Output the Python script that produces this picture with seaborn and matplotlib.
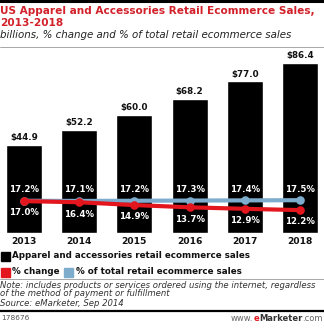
import matplotlib
matplotlib.use("Agg")
import matplotlib.pyplot as plt
import seaborn as sns
import numpy as np
import pandas as pd
from matplotlib.patches import Rectangle
from matplotlib.lines import Line2D

years = ["2013", "2014", "2015", "2016", "2017", "2018"]
sales = [44.9, 52.2, 60.0, 68.2, 77.0, 86.4]
pct_change = [17.0, 16.4, 14.9, 13.7, 12.9, 12.2]
pct_total = [17.2, 17.1, 17.2, 17.3, 17.4, 17.5]

RED = "#e3161e"
BLUE = "#7eaccc"
TITLE_RED = "#d2212b"

sns.set_theme(style="white")
plt.rcParams["font.family"] = ["DejaVu Sans"]

W, H = 324, 331
fig = plt.figure(figsize=(W / 100, H / 100), dpi=100)
renderer = fig.canvas.get_renderer()


def fx(px):
    return px / W


def fy(py):
    return 1 - py / H


def fit(t, width_px):
    for _ in range(3):
        w = t.get_window_extent(renderer=renderer).width
        t.set_fontsize(t.get_fontsize() * width_px / w)
    return t


ax_bottom, ax_top = 233, 50
ax = fig.add_axes([0, fy(ax_bottom), 1, (ax_bottom - ax_top) / H])

df = pd.DataFrame({"year": years, "sales": sales})
sns.barplot(data=df, x="year", y="sales", color="black", width=0.65,
            saturation=1, ax=ax)
ax.set_ylim(0, (ax_bottom - ax_top) / 1.97)
for c in ax.containers:
    ax.bar_label(c, labels=[f"${v:.1f}" for v in sales], padding=2,
                 fontsize=6.3, fontweight="bold", color="#111111")

ax2 = ax.twinx()
xpos = np.arange(len(years))
sns.lineplot(x=xpos, y=pct_total, color=BLUE, linewidth=3.0, marker="o",
             markersize=6.2, markeredgewidth=0, ax=ax2, zorder=3)
sns.lineplot(x=xpos, y=pct_change, color=RED, linewidth=3.0, marker="o",
             markersize=6.2, markeredgewidth=0, ax=ax2, zorder=4)
ax2.set_ylim(0, (ax_bottom - ax_top) / 1.875)
for i in range(len(years)):
    ax2.annotate(f"{pct_total[i]:.1f}%", (xpos[i], pct_total[i]),
                 xytext=(0, 8), textcoords="offset points", ha="center",
                 va="center", color="white", fontsize=6.2, fontweight="bold")
    ax2.annotate(f"{pct_change[i]:.1f}%", (xpos[i], pct_change[i]),
                 xytext=(0, -8.5), textcoords="offset points", ha="center",
                 va="center", color="white", fontsize=6.2, fontweight="bold")

span = 55.2
for a in (ax, ax2):
    a.set_xlim(-24 / span, 5 + 24 / span)
    for s in a.spines.values():
        s.set_visible(False)
    a.set_yticks([])
    a.set_ylabel("")
    a.set_xlabel("")
ax2.set_xticks([])
ax.set_xticks(xpos)
ax.set_xticklabels(years, fontsize=6.6, fontweight="bold", color="#111111")
ax.tick_params(axis="x", length=0, pad=3)

# header
fig.add_artist(Line2D([0, 1], [fy(1), fy(1)], color="black", lw=2.2))
t = fig.text(fx(0), fy(11), "US Apparel and Accessories Retail Ecommerce Sales,",
             color=TITLE_RED, fontsize=8, fontweight="bold", va="center")
fit(t, 314)
fig.text(fx(0), fy(22.5), "2013-2018", color=TITLE_RED, fontsize=t.get_fontsize(),
         fontweight="bold", va="center")
t = fig.text(fx(0), fy(35), "billions, % change and % of total retail ecommerce sales",
             color="#222222", fontsize=7.4, fontstyle="italic", va="center")
fit(t, 291)
fig.add_artist(Line2D([0, 1], [fy(46.5), fy(46.5)], color="#999999", lw=0.6))


# legend
def sq(x, y, color):
    fig.add_artist(Rectangle((fx(x), fy(y + 4.5)), fx(9), 9 / H, color=color,
                             transform=fig.transFigure))


sq(1, 256, "black")
t = fig.text(fx(12), fy(256), "Apparel and accessories retail ecommerce sales",
             fontsize=7, fontweight="bold", color="#111111", va="center")
fit(t, 237)
fs = t.get_fontsize()
sq(1, 272, RED)
fig.text(fx(12), fy(272), "% change", fontsize=fs, fontweight="bold",
         color="#111111", va="center")
sq(64, 272, BLUE)
fig.text(fx(76), fy(272), "% of total retail ecommerce sales", fontsize=fs,
         fontweight="bold", color="#111111", va="center")

fig.add_artist(Line2D([0, 1], [fy(279), fy(279)], color="#999999", lw=0.6))
t = fig.text(fx(0), fy(285),
             "Note: includes products or services ordered using the internet, regardless",
             fontsize=6.3, fontstyle="italic", color="#333333", va="center")
fit(t, 316)
nfs = t.get_fontsize()
fig.text(fx(0), fy(294), "of the method of payment or fulfillment", fontsize=nfs,
         fontstyle="italic", color="#333333", va="center")
fig.text(fx(0), fy(303), "Source: eMarketer, Sep 2014", fontsize=nfs,
         fontstyle="italic", color="#333333", va="center")
fig.add_artist(Line2D([0, 1], [fy(311), fy(311)], color="black", lw=1.6))
fig.text(fx(1), fy(318.5), "178676", fontsize=5.3, color="#555555", va="center")

# www.eMarketer.com built from pieces
fs2 = 6.0
parts = [("www.", "#666666", "normal"), ("e", RED, "bold"),
         ("Marketer", "#333333", "bold"), (".com", "#666666", "normal")]
objs = []
for s, col, wt in parts:
    objs.append(fig.text(0, fy(318.5), s, fontsize=fs2, color=col,
                         fontweight=wt, va="center"))
widths = [o.get_window_extent(renderer=renderer).width for o in objs]
x = 323 - sum(widths)
for o, w in zip(objs, widths):
    o.set_x(fx(x))
    x += w

fig.savefig("out.png", dpi=100)
